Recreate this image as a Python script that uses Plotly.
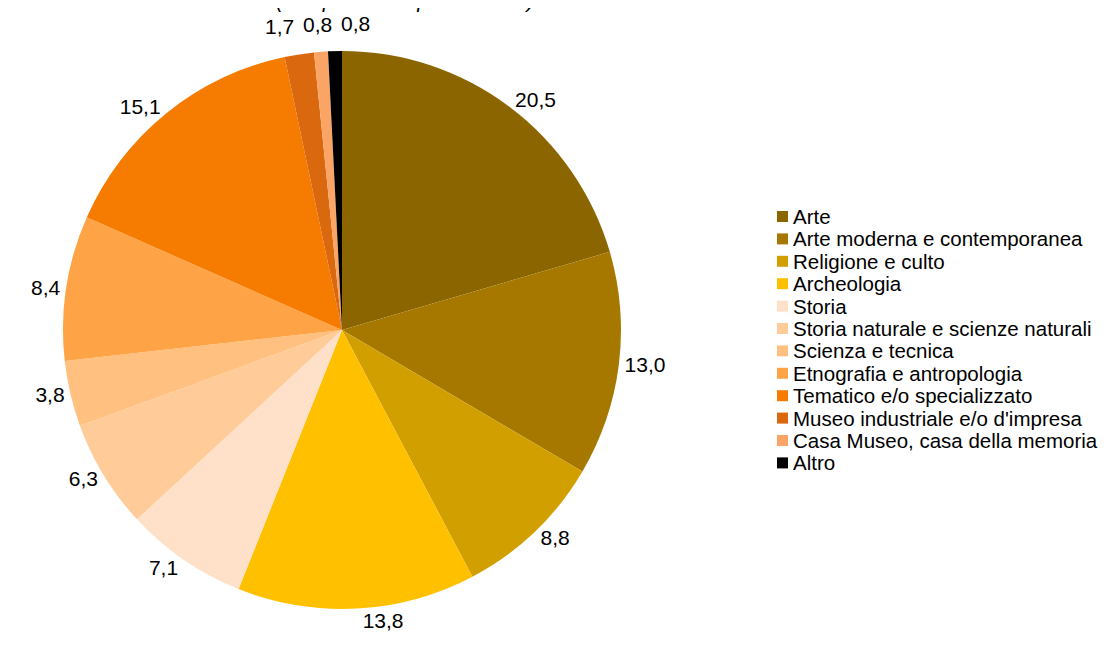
import math
import plotly.graph_objects as go

categories = ["Arte", "Arte moderna e contemporanea", "Religione e culto", "Archeologia",
              "Storia", "Storia naturale e scienze naturali", "Scienza e tecnica",
              "Etnografia e antropologia", "Tematico e/o specializzato",
              "Museo industriale e/o d'impresa", "Casa Museo, casa della memoria", "Altro"]
values = [20.5, 13.0, 8.8, 13.8, 7.1, 6.3, 3.8, 8.4, 15.1, 1.7, 0.8, 0.8]
colors = ["#8B6600", "#A67800", "#D1A000", "#FFC000", "#FFE0C8", "#FFCC99",
          "#FFC080", "#FFA347", "#F57C00", "#D9680E", "#FAA466", "#000000"]
title_text = "(composizione percentuale)"

# page has an 8px body margin: figure sized to fit the window
OFF = 8
W, H = 1111 - 2 * OFF, 645 - 2 * OFF
T = 40                      # fixed top margin
HP = H - T                  # plot-area height
FONT = "Liberation Sans, Arial, sans-serif"
FS = 21
FS_LEG = 20.5


def px(x):                  # page x -> paper x
    return (x - OFF) / W


def py(y):                  # page y -> paper y
    return (H - (y - OFF)) / HP


def fmt(v):
    return f"{v:.1f}".replace(".", ",")


cx, cy, r = 342, 330, 279
small = [v < 2 for v in values]   # thin slices: labels set side by side above the pie

fig = go.Figure(go.Pie(
    labels=categories, values=values, sort=False, direction="clockwise", rotation=0,
    marker=dict(colors=colors, line=dict(width=0)),
    texttemplate=["" if s else "%{value:.1f}" for s in small],
    textposition="outside", automargin=False,
    textfont=dict(family=FONT, size=FS, color="#000000"),
    hoverinfo="label+value", showlegend=False,
    domain=dict(x=[px(cx - r), px(cx + r)], y=[py(cy + r), py(cy - r)]),
))

# labels of the thin slices: placed at their mid-angle, then spread apart horizontally
total = sum(values)
cum = 0.0
pts = []
for v, s in zip(values, small):
    mid = (cum + v / 2) / total * 2 * math.pi
    cum += v
    if s:
        R = r + 14
        pts.append([cx + R * math.sin(mid), cy - R * math.cos(mid), fmt(v)])
pts.sort(key=lambda p: p[0])
gap = 38
for _ in range(200):
    for a, b in zip(pts, pts[1:]):
        d = b[0] - a[0]
        if d < gap:
            a[0] -= (gap - d) / 2
            b[0] += (gap - d) / 2
for x, y, t in pts:
    fig.add_annotation(text=t, xref="paper", yref="paper", x=px(x), y=py(y),
                       xanchor="center", yanchor="bottom", showarrow=False,
                       font=dict(family=FONT, size=FS, color="#000"))

# legend drawn as squares + labels
lx, ly0, dy = 777, 216.5, 22.4
for i, (name, col) in enumerate(zip(categories, colors)):
    yc = ly0 + i * dy
    fig.add_shape(type="rect", xref="paper", yref="paper",
                  x0=px(lx), x1=px(lx + 11), y0=py(yc + 5.5), y1=py(yc - 5.5),
                  fillcolor=col, line=dict(width=0))
    fig.add_annotation(text=name, xref="paper", yref="paper", x=px(lx + 14), y=py(yc),
                       xanchor="left", yanchor="middle", showarrow=False,
                       font=dict(family=FONT, size=FS_LEG, color="#000"))

fig.update_layout(
    width=W, height=H, separators=",.",
    margin=dict(l=0, r=0, t=T, b=0),
    paper_bgcolor="white", plot_bgcolor="white",
    font=dict(family=FONT, size=FS, color="#000"),
    showlegend=False,
    title=dict(text="<i>" + title_text + "</i>", x=px(405), xanchor="center",
               xref="paper", yref="container", y=1, yanchor="bottom",
               font=dict(family=FONT, size=FS, color="#000")),
)

fig.write_html("out.html")
